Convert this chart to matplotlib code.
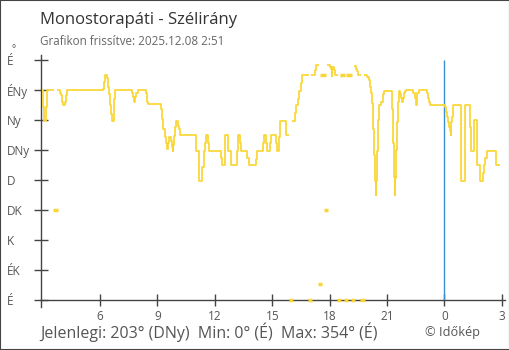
import matplotlib
matplotlib.use("Agg")

import matplotlib.pyplot as plt
import matplotlib.transforms as mtransforms
from matplotlib.patches import Rectangle

plt.rcParams['font.family'] = ['Open Sans', 'DejaVu Sans']

# ------------------------------------------------------------
# DATA: wind direction steps (hours from 00:00 of 2025.12.07, degrees)
# ------------------------------------------------------------
times = [2.97, 3.01, 3.04, 3.08, 3.20, 3.25, 3.58, 3.76, 3.90, 3.96,
         4.03, 4.07, 4.19, 4.24, 4.29, 6.16, 6.21, 6.25, 6.28, 6.37,
         6.44, 6.49, 6.54, 6.59, 6.63, 6.72, 6.80, 7.69, 7.74, 7.79,
         7.85, 7.90, 7.99, 8.39, 8.44, 8.47, 8.53, 9.21, 9.26, 9.31,
         9.38, 9.44, 9.49, 9.56, 9.61, 9.70, 9.75, 9.80, 9.83, 9.88,
         9.94, 9.97, 10.06, 10.11, 10.17, 10.20, 11.03, 11.19, 11.35, 11.42,
         11.47, 11.54, 11.66, 11.71, 12.31, 12.38, 12.52, 12.55, 12.71, 12.86,
         13.18, 13.23, 13.33, 13.39, 13.70, 13.77, 14.17, 14.22, 14.53, 14.59,
         14.69, 14.74, 14.87, 14.92, 15.21, 15.27, 15.37, 15.42, 15.71, 15.74,
         15.90, 16.03, 16.21, 16.26, 16.35, 16.42, 16.50, 16.56, 16.90, 17.05,
         17.24, 17.29, 17.45, 17.55, 17.76, 17.86, 18.02, 18.09, 18.12, 18.14,
         18.21, 18.27, 18.44, 18.57, 18.78, 18.91, 19.13, 19.27, 19.39, 19.45,
         19.48, 19.62, 19.80, 19.97, 20.04, 20.09, 20.15, 20.21, 20.27, 20.32,
         20.37, 20.40, 20.42, 20.46, 20.51, 20.56, 20.70, 20.77, 20.84, 21.26,
         21.31, 21.36, 21.39, 21.42, 21.45, 21.50, 21.56, 21.61, 21.65, 21.70,
         21.75, 21.78, 21.83, 21.89, 21.94, 21.99, 22.37, 22.45, 22.50, 22.54,
         22.59, 22.65, 23.07, 23.14, 23.19, 23.23, 24.05, 24.10, 24.15, 24.20,
         24.25, 24.31, 24.34, 24.36, 24.41, 24.46, 24.54, 24.88, 25.06, 25.35,
         25.40, 25.56, 25.70, 25.86, 26.03, 26.08, 26.13, 26.22, 26.71]
dirs = [315, 302, 290, 268, 290, 315, 135, 315, 311, 307,
        297, 292, 297, 307, 315, 317, 327, 333, 338, 333,
        320, 309, 292, 279, 268, 302, 315, 310, 305, 297,
        305, 310, 315, 310, 302, 297, 294, 286, 271, 256,
        244, 236, 227, 236, 244, 238, 230, 224, 232, 246,
        260, 269, 261, 256, 252, 248, 224, 179, 200, 224,
        235, 248, 235, 224, 213, 202, 223, 247, 223, 202,
        223, 247, 236, 223, 213, 202, 212, 223, 236, 247,
        236, 223, 236, 247, 236, 223, 245, 268, 260, 248,
        0, 269, 280, 292, 302, 314, 325, 337, 0, 338,
        345, 353, 24, 338, 135, 352, 349, 347, 336, 350,
        345, 338, 0, 338, 0, 338, 0, 351, 346, 343,
        338, 0, 338, 334, 330, 319, 310, 295, 256, 217,
        178, 157, 178, 223, 270, 292, 297, 309, 314, 287,
        236, 184, 157, 183, 225, 267, 297, 309, 314, 309,
        303, 297, 303, 310, 313, 315, 310, 303, 292, 303,
        310, 315, 310, 303, 297, 293, 290, 282, 275, 267,
        260, 253, 247, 267, 275, 292, 293, 178, 293, 260,
        223, 270, 203, 178, 190, 203, 213, 223, 203]
t_end = 26.89

dir_ticks = [0, 45, 90, 135, 180, 225, 270, 315, 360]
dir_labels = ['É', 'ÉK', 'K', 'DK', 'D', 'DNy', 'Ny', 'ÉNy', 'É']
hour_ticks = [6, 9, 12, 15, 18, 21, 24, 27]
hour_labels = ['6', '9', '12', '15', '18', '21', '0', '3']

title = 'Monostorapáti - Szélirány'
subtitle = 'Grafikon frissítve: 2025.12.08 2:51'
footer = 'Jelenlegi: 203° (DNy)  Min: 0° (É)  Max: 354° (É)'

# ------------------------------------------------------------
# SPLIT INTO STEP PIECES (break on jumps across north)
# ------------------------------------------------------------
pieces = []
cur_x, cur_y = [], []
for i in range(len(times)):
    t1 = times[i + 1] if i + 1 < len(times) else t_end
    cur_x += [times[i], t1]
    cur_y += [dirs[i], dirs[i]]
    if i + 1 < len(times) and abs(dirs[i + 1] - dirs[i]) < 150:
        continue
    pieces.append((cur_x, cur_y))
    cur_x, cur_y = [], []

# ------------------------------------------------------------
# PLOT
# ------------------------------------------------------------
fig = plt.figure(figsize=(5.1, 3.5), dpi=100)
ax = fig.add_axes([41 / 510, 50 / 350, 464 / 510, 245 / 350])

line_color = '#fad634'
pad = 0.035  # lone readings are drawn a bit wider, like the original
for px, py in pieces:
    if len(px) == 2:
        ax.plot([px[0] - pad, px[1] + pad], py, color=line_color, lw=2.5,
                solid_capstyle='butt', clip_on=False, zorder=3)
    else:
        ax.plot(px, py, color=line_color, lw=1.25, solid_capstyle='butt',
                zorder=3)

ax.vlines(24, 0, 360, color='#3d8fcf', lw=1.0, zorder=2)

ax.set_xlim(2.92, 2.92 + 464 / 19.14)
ax.set_ylim(0, 367.5)

for s in ['top', 'right']:
    ax.spines[s].set_visible(False)
for s in ['left', 'bottom']:
    ax.spines[s].set_color('#444444')
    ax.spines[s].set_linewidth(1.0)
    ax.spines[s].set_zorder(1)

ax.set_xticks(hour_ticks)
ax.set_xticklabels(hour_labels)
ax.tick_params(axis='x', direction='inout', length=9, width=1.0,
               color='#444444', labelcolor='#555555', labelsize=8.5, pad=3)
ax.set_yticks(dir_ticks)
ax.set_yticklabels([])
ax.tick_params(axis='y', direction='inout', length=9.5, width=1.0,
               color='#444444')

# y labels left-aligned at the figure edge
trans = mtransforms.blended_transform_factory(fig.transFigure, ax.transData)
for v, lab in zip(dir_ticks, dir_labels):
    ax.text(7 / 510, v, lab, transform=trans, ha='left', va='center_baseline',
            fontsize=8.5, color='#555555', clip_on=False)
fig.text(12 / 510, 1 - 52 / 350, '°', fontsize=7, color='#555555')

# small spine extension below the x axis
ax.plot([0, 0], [-0.03, 0], transform=ax.transAxes, color='#444444',
        lw=1.0, clip_on=False)

fig.text(40 / 510, 1 - 24 / 350, title, fontsize=12, color='#333333',
         va='baseline')
fig.text(40 / 510, 1 - 45 / 350, subtitle, fontsize=8.4, color='#666666',
         va='baseline')
fig.text(40 / 510, 1 - 338 / 350, footer, fontsize=11.5, color='#555555',
         va='baseline')
fig.text(425 / 510, 1 - 336 / 350, '© Időkép', fontsize=9.2, color='#555555',
         va='baseline')

fig.patches.append(Rectangle((0, 0), 1, 1, transform=fig.transFigure,
                             fill=False, ec='#444444', lw=1.5))

fig.savefig('out.png', dpi=100)
